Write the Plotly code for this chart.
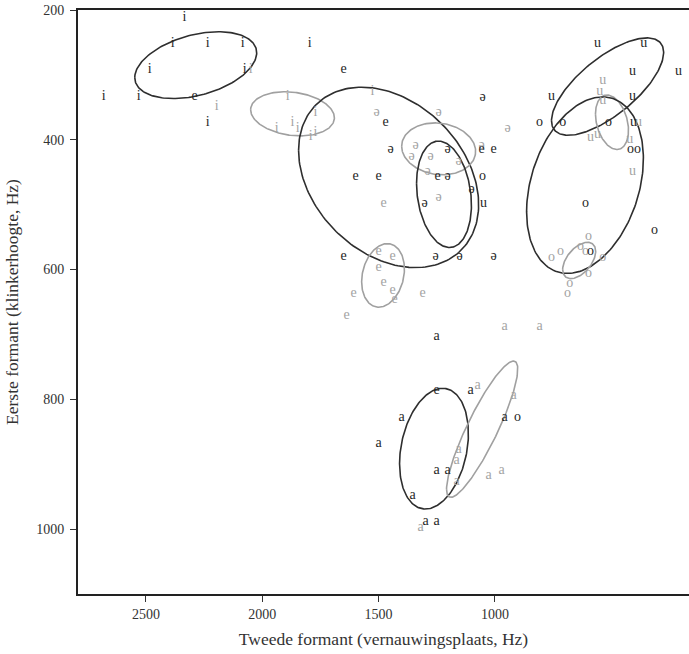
import numpy as np
import plotly.graph_objects as go

# ---- Speaker A (dark) tokens: vowel, F2 (Hz), F1 (Hz)
dark_vowels = ["i", "i", "i", "i", "i", "i", "i", "i", "i", "i",
               "e", "e", "e", "e", "e", "e", "e", "e", "e", "e",
               "ə", "ə", "ə", "ə", "ə", "ə", "ə", "ə", "ə",
               "u", "u", "u", "u", "u", "u", "u", "u",
               "o", "o", "o", "o", "o", "o", "o", "o", "o", "o",
               "a", "a", "a", "a", "a", "a", "a", "a", "a", "a"]
dark_f2 = [2334, 2385, 2235, 2084, 1796, 2484, 2076, 2682, 2531, 2235,
           2291, 1650, 1470, 1057, 1006, 1599, 1500, 1246, 1650, 1251,
           1053, 1448, 1204, 1204, 1100, 1302, 1255, 1152, 1006,
           559, 361, 409, 211, 757, 409, 404, 1049,
           808, 709, 512, 417, 387, 611, 314, 589, 1053, 903,
           1251, 1105, 1401, 959, 1500, 1251, 1204, 1354, 1298, 1251]
dark_f1 = [211, 251, 251, 251, 251, 292, 292, 334, 334, 374,
           334, 292, 374, 415, 415, 457, 457, 457, 580, 786,
           335, 415, 415, 457, 477, 498, 580, 580, 580,
           252, 252, 294, 294, 334, 334, 374, 498,
           374, 374, 374, 415, 415, 498, 540, 572, 457, 828,
           703, 786, 828, 828, 868, 909, 909, 948, 989, 989]

# ---- Speaker B (grey) tokens
grey_vowels = ["i", "i", "i", "i", "i", "i", "i", "i", "i", "i",
               "ə", "ə", "ə", "ə", "ə", "ə", "ə", "ə", "ə", "ə",
               "e", "e", "e", "e", "e", "e", "e", "e", "e", "e",
               "u", "u", "u", "u", "u", "u", "u", "u",
               "o", "o", "o", "o", "o", "o", "o", "o", "o",
               "a", "a", "a", "a", "a", "a", "a", "a", "a", "a"]
grey_f2 = [2050, 2196, 1891, 1771, 1938, 1870, 1848, 1792, 1771, 1526,
           1509, 1242, 946, 1341, 1358, 1277, 1156, 1057, 1289, 1242,
           1479, 1500, 1440, 1500, 1479, 1440, 1431, 1607, 1311, 1638,
           537, 550, 537, 383, 589, 559, 421, 409,
           757, 718, 632, 598, 611, 537, 598, 679, 688,
           959, 808, 1075, 920, 1156, 1165, 1165, 1027, 971, 1320]
grey_f1 = [292, 349, 334, 358, 382, 374, 382, 395, 389, 326,
           358, 358, 383, 409, 425, 426, 434, 409, 449, 489,
           498, 572, 580, 597, 620, 632, 646, 637, 637, 671,
           309, 325, 340, 374, 397, 392, 400, 449,
           582, 572, 565, 549, 572, 582, 606, 622, 637,
           688, 688, 778, 794, 877, 894, 926, 917, 909, 998]

# ---- Ellipses: speaker, centre F2, centre F1, half-extent F2, half-extent F1, correlation
ell_speaker = ["A", "B", "A", "B", "B", "A", "A", "B", "A", "B", "A", "B"]
ell_f2 = [2286, 1870, 1457, 1481, 1242, 1219, 516, 497, 613, 638, 1262, 1055]
ell_f1 = [285, 360, 458, 609, 414, 484, 318, 373, 470, 586, 876, 846]
ell_sd2 = [262, 180, 387, 92, 159, 118, 241, 71, 251, 71, 148, 153]
ell_sd1 = [51.5, 34, 139, 49, 40, 82, 75, 42, 136, 28, 93, 105]
ell_rho = [0.37, -0.18, -0.3, 0.2, -0.1, -0.2, 0.7, -0.3, 0.3, 0.5, 0.25, 0.88]

# ---- Axis ticks
x_ticks = [2500, 2000, 1500, 1000]
y_ticks = [200, 400, 600, 800, 1000]

DARK = "#262626"
GREY = "#a3a3a3"
FONT = "Liberation Serif, DejaVu Serif, serif"

fig = go.Figure()

t = np.linspace(0, 2 * np.pi, 200)
for spk, cx, cy, sx, sy, r in zip(ell_speaker, ell_f2, ell_f1, ell_sd2, ell_sd1, ell_rho):
    ex = cx + sx * np.cos(t)
    ey = cy + sy * (r * np.cos(t) + np.sqrt(1 - r * r) * np.sin(t))
    fig.add_trace(go.Scatter(x=ex, y=ey, mode="lines",
                             line=dict(color="#2e2e2e" if spk == "A" else "#a0a0a0", width=1.6),
                             hoverinfo="skip", showlegend=False))

fig.add_trace(go.Scatter(x=grey_f2, y=grey_f1, text=grey_vowels, mode="text",
                         textposition="middle center",
                         textfont=dict(family=FONT, size=14, color=GREY),
                         hoverinfo="skip", showlegend=False))
fig.add_trace(go.Scatter(x=dark_f2, y=dark_f1, text=dark_vowels, mode="text",
                         textposition="middle center",
                         textfont=dict(family=FONT, size=14, color=DARK),
                         hoverinfo="skip", showlegend=False))

axis_common = dict(showgrid=False, zeroline=False, showline=True, linecolor="#222222",
                   linewidth=2, ticks="outside", ticklen=6, tickcolor="#333333",
                   tickwidth=1.2,
                   tickfont=dict(family=FONT, size=14, color="#333333"))

fig.update_layout(
    width=689, height=654,
    margin=dict(l=78, r=0, t=10, b=60),
    paper_bgcolor="white", plot_bgcolor="white",
    xaxis=dict(range=[2792, 166], tickvals=x_ticks, mirror=True, ticklabelstandoff=0,
               title=dict(text="Tweede formant (vernauwingsplaats, Hz)",
                          font=dict(family=FONT, size=17.5, color="#333333"), standoff=12),
               **axis_common),
    yaxis=dict(range=[1100, 200], tickvals=y_ticks, ticklabelstandoff=3,
               title=dict(text="Eerste formant (klinkerhoogte, Hz)",
                          font=dict(family=FONT, size=17.5, color="#333333"), standoff=13),
               **axis_common),
)

fig.write_html("out.html", config={"displayModeBar": False},
               post_script="document.body.style.margin='0';document.body.style.padding='0';")
